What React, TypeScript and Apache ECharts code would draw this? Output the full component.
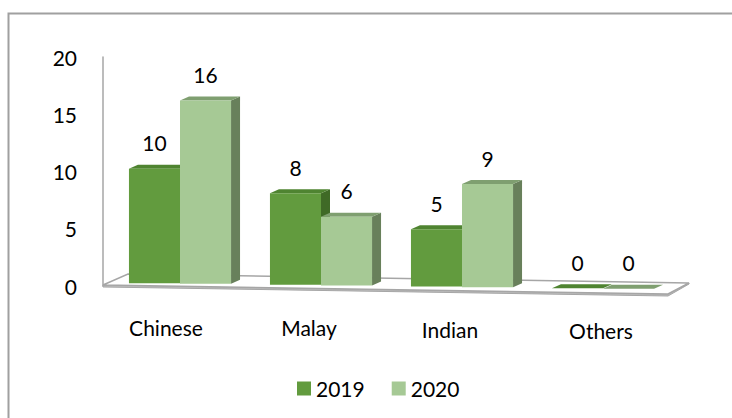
import React, { useEffect, useRef } from "react";
import * as echarts from "echarts";

const categories = ["Chinese", "Malay", "Indian", "Others"];
const seriesNames = ["2019", "2020"];
const values2019 = [10, 8, 5, 0];
const values2020 = [16, 6, 9, 0];
const yTicks = { min: 0, max: 20, interval: 5 };

const FONT = "Lato, 'Open Sans', sans-serif";
const FS = 21;

const palette = [
  { front: "#629b3e", top: "#4f8431", side: "#3f6a26" },
  { front: "#a6c995", top: "#7f9f70", side: "#68805b" },
];

const SLOPE = 0.0118;
const DX = 9;
const DY = -4;

function makeBarSeries(idx: number, values: number[]) {
  const colors = palette[idx];
  return {
    type: "custom",
    name: seriesNames[idx],
    itemStyle: { color: colors.front },
    data: values.map((v, i) => [i, v]),
    z: 3 + idx,
    renderItem: (params: any, api: any) => {
      const ci = api.value(0);
      const v = api.value(1);
      const [cx, y0] = api.coord([ci, 0]);
      const y1 = api.coord([ci, v])[1];
      const band = api.size([1, 0])[0];
      const w = band * 0.362;
      const x1 = idx === 0 ? cx - w : cx;
      const x2 = x1 + w;
      const cs = params.coordSys;
      const mid = cs.x + cs.width / 2;
      const skew = ((x1 + x2) / 2 - mid) * SLOPE;
      const yb = y0 + skew;
      const yt = y1 + skew;
      const children: any[] = [
        {
          type: "polygon",
          shape: { points: [[x2, yt], [x2 + DX, yt + DY], [x2 + DX, yb + DY], [x2, yb]] },
          style: { fill: colors.side },
        },
        {
          type: "polygon",
          shape: { points: [[x1, yt], [x2, yt], [x2 + DX, yt + DY], [x1 + DX, yt + DY]] },
          style: { fill: colors.top },
        },
      ];
      if (yb - yt > 0.5) {
        children.push({
          type: "rect",
          shape: { x: x1, y: yt, width: w, height: yb - yt },
          style: { fill: colors.front },
        });
      }
      children.push({
        type: "text",
        style: {
          text: String(v),
          x: (x1 + x2) / 2,
          y: yt - 26,
          align: "center",
          verticalAlign: "middle",
          fontSize: FS,
          fontFamily: FONT,
          fill: "#000000",
        },
      });
      return { type: "group", children };
    },
  };
}

const floorSeries = {
  type: "custom",
  name: "floor",
  data: [[0, 0]],
  z: 1,
  silent: true,
  renderItem: (params: any) => {
    const cs = params.coordSys;
    const fl = [cs.x - 6.5, cs.y + cs.height - 1];
    const fr = [cs.x + cs.width - 5.5, cs.y + cs.height + 8];
    const bl = [fl[0] + 25, fl[1] - 11];
    const br = [fr[0] + 21, fr[1] - 11];
    return {
      type: "group",
      children: [
        {
          type: "polygon",
          shape: { points: [fl, [fl[0], fl[1] + 2], [fr[0], fr[1] + 2], [br[0], br[1] + 1], br, fr] },
          style: { fill: "#bdbdbd", stroke: "#a6a6a6", lineWidth: 1 },
        },
        {
          type: "polygon",
          shape: { points: [fl, bl, br, fr] },
          style: { fill: "#ffffff", stroke: "#a6a6a6", lineWidth: 1.5 },
        },
      ],
    };
  },
};

const labelShift = [
  { right: 28, top: 0 },
  { right: 24, top: 1 },
  { right: 24, top: 4 },
  { right: 4, top: 7 },
];

export default function App() {
  const ref = useRef<HTMLDivElement>(null);
  useEffect(() => {
    if (!ref.current) return;
    const chart = echarts.init(ref.current, undefined, { renderer: "svg" });
    const rich: any = {};
    labelShift.forEach((s, i) => {
      rich["c" + i] = {
        fontSize: FS,
        fontFamily: FONT,
        color: "#000000",
        lineHeight: 24,
        padding: [s.top, s.right, 0, 0],
      };
    });
    chart.setOption({
      animation: false,
      backgroundColor: "#ffffff",
      graphic: [
        {
          type: "rect",
          shape: { x: 8.5, y: 13.5, width: 760, height: 440 },
          style: { fill: "none", stroke: "#a0a0a0", lineWidth: 2 },
          z: 0,
        },
      ],
      grid: { left: 109.5, right: 58.5, top: 57, bottom: 132 },
      legend: {
        data: seriesNames,
        left: 292,
        top: 373,
        icon: "rect",
        itemWidth: 14,
        itemHeight: 14,
        itemGap: 27,
        textStyle: { fontSize: FS, fontFamily: FONT, color: "#000000" },
      },
      xAxis: {
        type: "category",
        data: categories,
        axisLine: { show: false },
        axisTick: { show: false },
        axisLabel: {
          margin: 29,
          formatter: (val: string, i: number) => `{c${i}|${val}}`,
          rich,
        },
      },
      yAxis: {
        type: "value",
        min: yTicks.min,
        max: yTicks.max,
        interval: yTicks.interval,
        offset: 6.5,
        splitLine: { show: false },
        axisLine: { show: true, lineStyle: { color: "#a6a6a6", width: 1.5 } },
        axisTick: { show: false },
        axisLabel: { margin: 26, fontSize: FS, fontFamily: FONT, color: "#000000" },
      },
      series: [floorSeries, makeBarSeries(0, values2019), makeBarSeries(1, values2020)],
    });
    return () => chart.dispose();
  }, []);
  return (
    <div
      ref={ref}
      style={{ position: "absolute", left: 0, top: 0, width: 732, height: 418 }}
    />
  );
}
